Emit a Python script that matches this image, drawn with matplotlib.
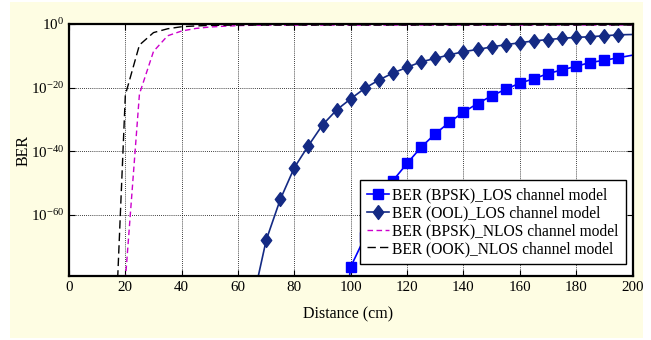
import numpy as np
import matplotlib
matplotlib.use("Agg")
import matplotlib.pyplot as plt
from matplotlib.patches import Rectangle

plt.rcParams.update({
    "font.family": ["Liberation Serif", "DejaVu Serif"],
    "mathtext.fontset": "custom",
    "mathtext.rm": "Liberation Serif",
    "mathtext.it": "Liberation Serif:italic",
    "font.size": 10,
})

# distances (cm) and log10(BER)
dist_bpsk_los = [95, 100, 105, 110, 115, 120, 125, 130, 135, 140, 145,
                 150, 155, 160, 165, 170, 175, 180, 185, 190, 195, 200]
log_ber_bpsk_los = [-110, -76.3, -67.0, -57.5, -49.2, -43.8, -38.7, -34.5,
                    -30.9, -27.7, -25.0, -22.6, -20.5, -18.6, -17.2, -15.6,
                    -14.4, -13.3, -12.1, -11.4, -10.6, -9.8]

dist_ook_los = [65, 70, 75, 80, 85, 90, 95, 100, 105, 110, 115, 120, 125,
                130, 135, 140, 145, 150, 155, 160, 165, 170, 175, 180, 185,
                190, 195, 200]
log_ber_ook_los = [-88.0, -67.9, -55.1, -45.1, -38.2, -31.7, -27.0, -23.5,
                   -20.2, -17.6, -15.4, -13.6, -11.9, -10.8, -9.7, -8.7,
                   -8.0, -7.2, -6.5, -5.9, -5.3, -4.9, -4.5, -4.2, -4.0,
                   -3.7, -3.4, -3.3]

dist_bpsk_nlos = [20, 25, 30, 35, 40, 45, 50, 55, 60, 65, 70, 200]
log_ber_bpsk_nlos = [-80.5, -22.0, -8.6, -3.7, -2.2, -1.4, -0.95, -0.7,
                     -0.5, -0.4, -0.35, -0.31]

dist_ook_nlos = [15, 20, 25, 30, 35, 40, 45, 50, 55, 60, 200]
log_ber_ook_nlos = [-128, -22.3, -6.6, -2.7, -1.5, -0.85, -0.6, -0.45,
                    -0.38, -0.33, -0.31]

labels = ["BER (BPSK)_LOS channel model", "BER (OOL)_LOS channel model",
          "BER (BPSK)_NLOS channel model", "BER (OOK)_NLOS channel model"]

# MATLAB style diamond, a bit taller than wide
diamond = [(0, 1), (0.75, 0), (0, -1), (-0.75, 0), (0, 1)]

fig = plt.figure(figsize=(6.51, 3.40), dpi=100, facecolor="white")
fig.patches.append(Rectangle((10 / 651, 2 / 340), 633 / 651, 336 / 340,
                             transform=fig.transFigure, facecolor="#FEFDE3",
                             edgecolor="none", zorder=-10))
ax = fig.add_axes([69 / 651, 64 / 340, 563.5 / 651, 252 / 340])

ax.plot(dist_bpsk_los, 10.0 ** np.array(log_ber_bpsk_los), color="#0000FF",
        lw=1.2, marker="s", ms=6.5, markevery=list(range(1, 21)),
        label=labels[0])
ax.plot(dist_ook_los, 10.0 ** np.array(log_ber_ook_los), color="#142A84",
        lw=1.2, marker=diamond, ms=10, markevery=list(range(1, 27)),
        label=labels[1])
ax.plot(dist_bpsk_nlos, 10.0 ** np.array(log_ber_bpsk_nlos), color="#CC00CC",
        lw=1.0, dashes=(4, 2.5), label=labels[2])
ax.plot(dist_ook_nlos, 10.0 ** np.array(log_ber_ook_nlos), color="black",
        lw=1.0, dashes=(6, 3), label=labels[3])

ax.set_yscale("log")
ax.set_xlim(0, 200)
ax.set_ylim(10.0 ** -79.2, 1)
ax.set_xticks(range(0, 201, 20))
ax.set_yticks([1e-60, 1e-40, 1e-20, 1e0])
ax.set_yticklabels([r"$10^{-60}$", r"$10^{-40}$", r"$10^{-20}$", r"$10^{0}$"])
ax.minorticks_off()
ax.tick_params(direction="in", top=True, right=True, length=4, width=0.8,
               labelsize=10.8)
ax.grid(True, linestyle=(0, (1, 1.5)), color="black", lw=0.6)
for s in ax.spines.values():
    s.set_linewidth(1.6)

ax.set_xlabel("Distance (cm)", fontsize=11.5)
ax.xaxis.set_label_coords(0.495, -0.12)
ax.set_ylabel("BER", fontsize=11.5)
ax.yaxis.set_label_coords(-0.067, 0.5)

leg = ax.legend(loc="lower right", bbox_to_anchor=(0.988, 0.048),
                borderaxespad=0, fontsize=11.2, fancybox=False,
                framealpha=1, edgecolor="black", handlelength=1.45,
                handletextpad=0.2, labelspacing=0.12, borderpad=0.45)
leg.get_frame().set_linewidth(1.0)

fig.savefig("out.png", dpi=100, facecolor=fig.get_facecolor())
